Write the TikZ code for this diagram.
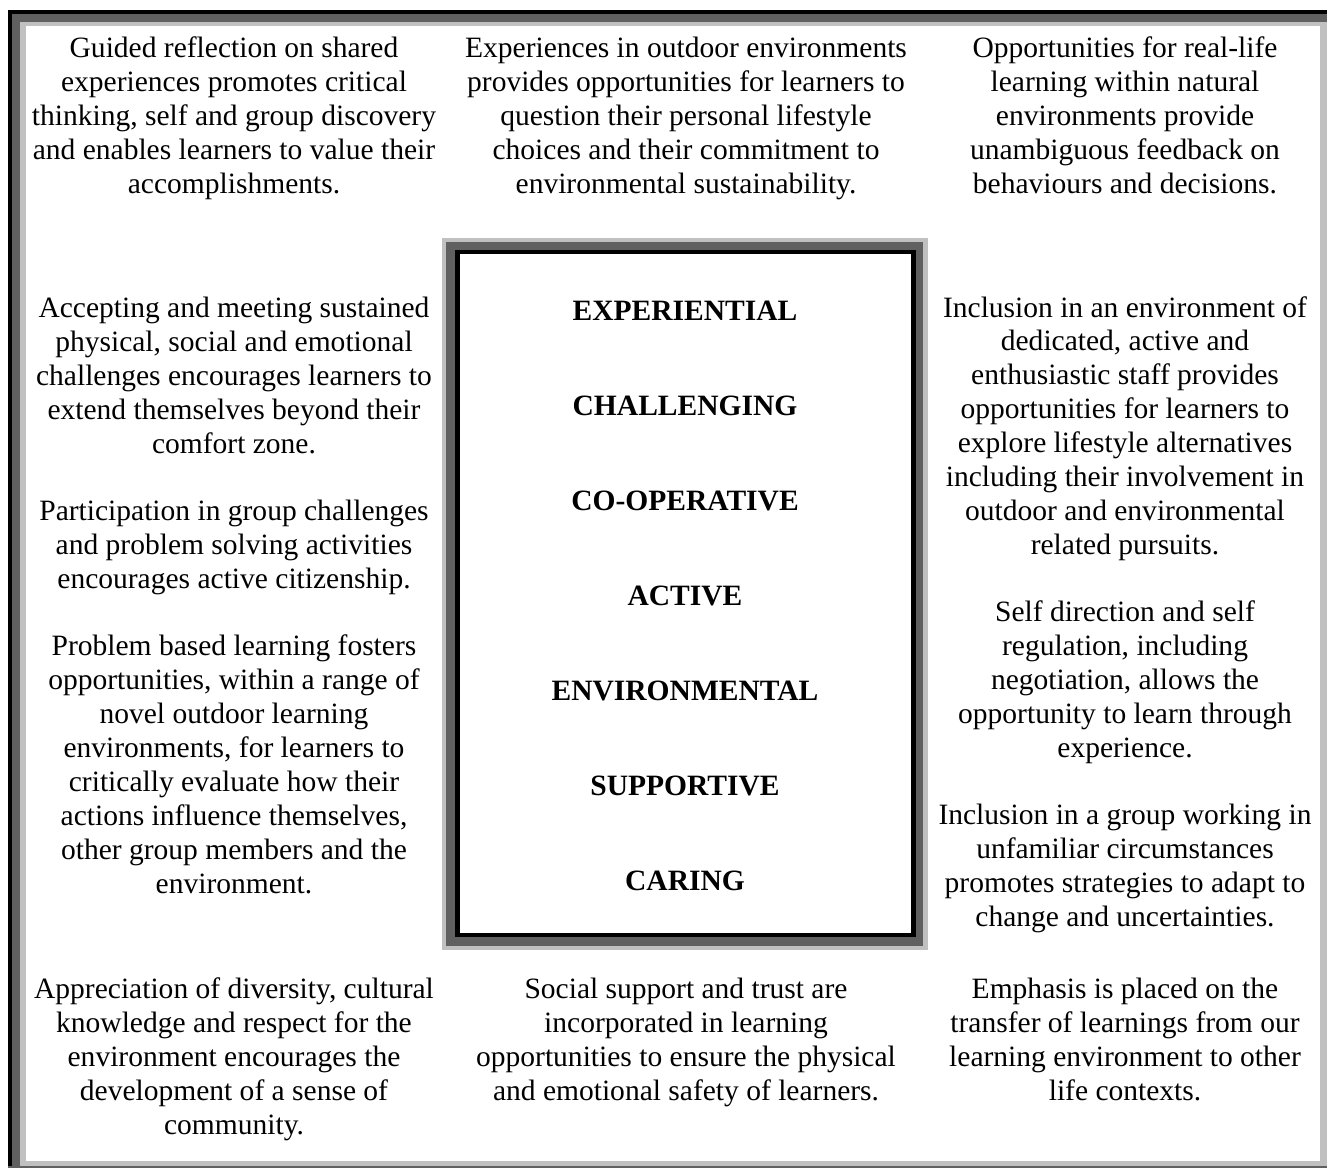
\documentclass[tikz,border=0pt]{standalone}
\usepackage{fontspec}
\setmainfont{Liberation Serif}
\usepackage{tikz}
\definecolor{darkframe}{HTML}{606060}
\definecolor{lightframe}{HTML}{C0C0C0}

\begin{document}
\begin{tikzpicture}[x=0.4066pt, y=-0.4066pt,
        txt/.style={align=center, inner sep=0pt, font=\fontsize{12}{13.8}\selectfont,
            execute at begin node=\strut, execute at end node=\strut},
        lbl/.style={inner sep=0pt, font=\fontsize{12}{13.8}\selectfont\bfseries,
            execute at begin node=\strut}]
        \useasboundingbox (0,0) rectangle (1327,1168);
        % outer frame
        \fill[lightframe] (8,10) rectangle (1327,1166);
        \fill[black] (8,10) rectangle (1327,14);
        \fill[black] (8,10) rectangle (12,1166);
        \fill[darkframe] (12,14) rectangle (1327,22);
        \fill[darkframe] (12,14) rectangle (20,1166);
        \fill[darkframe] (8,1166) rectangle (1327,1168);
        \fill[white] (26,26) rectangle (1320,1161);
        % centre box
        \fill[lightframe] (442,238) rectangle (928,950);
        \fill[darkframe] (446,242) rectangle (923,946);
        \fill[black] (455,250) rectangle (916,937);
        \fill[white] (460,254) rectangle (911,933);
        % top row
        \node[txt] (tl) at (234,120) {Guided reflection on shared\\experiences promotes critical\\thinking, self and group discovery\\and enables learners to value their\\accomplishments.};
        \node[txt] (tm) at (686,120) {Experiences in outdoor environments\\provides opportunities for learners to\\question their personal lifestyle\\choices and their commitment to\\environmental sustainability.};
        \node[txt] (tr) at (1125,120) {Opportunities for real-life\\learning within natural\\environments provide\\unambiguous feedback on\\behaviours and decisions.};
        % left column
        \node[txt] (l1) at (234,380) {Accepting and meeting sustained\\physical, social and emotional\\challenges encourages learners to\\extend themselves beyond their\\comfort zone.};
        \node[txt] (l2) at (234,549) {Participation in group challenges\\and problem solving activities\\encourages active citizenship.};
        \node[txt] (l3) at (234,769) {Problem based learning fosters\\opportunities, within a range of\\novel outdoor learning\\environments, for learners to\\critically evaluate how their\\actions influence themselves,\\other group members and the\\environment.};
        % right column
        \node[txt] (r1) at (1125,430.5) {Inclusion in an environment of\\dedicated, active and\\enthusiastic staff provides\\opportunities for learners to\\explore lifestyle alternatives\\including their involvement in\\outdoor and environmental\\related pursuits.};
        \node[txt] (r2) at (1125,684) {Self direction and self\\regulation, including\\negotiation, allows the\\opportunity to learn through\\experience.};
        \node[txt] (r3) at (1125,870) {Inclusion in a group working in\\unfamiliar circumstances\\promotes strategies to adapt to\\change and uncertainties.};
        % bottom row
        \node[txt] (bl) at (234,1061) {Appreciation of diversity, cultural\\knowledge and respect for the\\environment encourages the\\development of a sense of\\community.};
        \node[txt] (bm) at (686,1044) {Social support and trust are\\incorporated in learning\\opportunities to ensure the physical\\and emotional safety of learners.};
        \node[txt] (br) at (1125,1044) {Emphasis is placed on the\\transfer of learnings from our\\learning environment to other\\life contexts.};
        % centre labels
        \node[lbl] (exp) at (685,314) {EXPERIENTIAL};
        \node[lbl] (cha) at (685,409) {CHALLENGING};
        \node[lbl] (coo) at (685,504) {CO-OPERATIVE};
        \node[lbl] (act) at (685,599) {ACTIVE};
        \node[lbl] (env) at (685,694) {ENVIRONMENTAL};
        \node[lbl] (sup) at (685,789) {SUPPORTIVE};
        \node[lbl] (car) at (685,884) {CARING};
\end{tikzpicture}
\end{document}
